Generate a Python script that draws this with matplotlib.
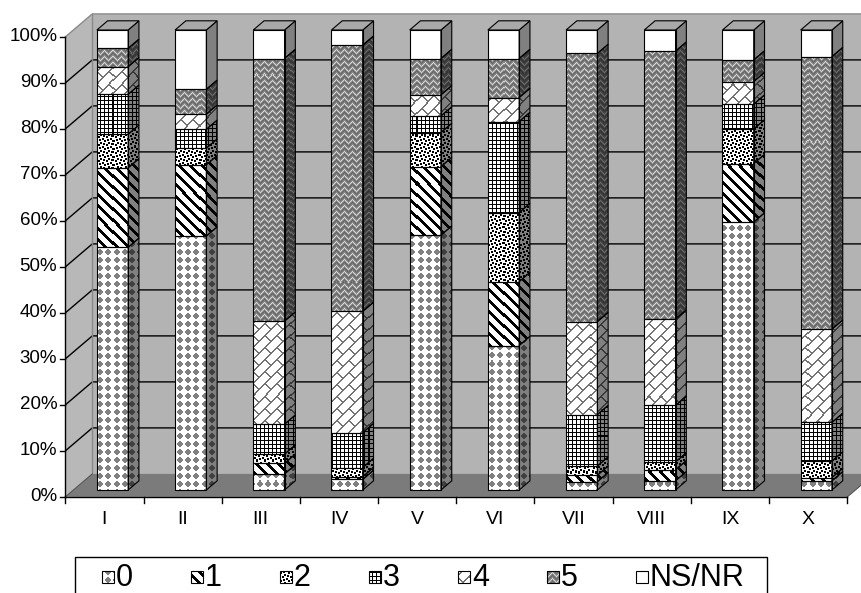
import numpy as np
import matplotlib
matplotlib.use("Agg")
import matplotlib.pyplot as plt
from matplotlib.patches import Polygon, Rectangle
from matplotlib import font_manager

# ---- data: share of answers per group (stacked to 100 %) ----
categories = ["I", "II", "III", "IV", "V", "VI", "VII", "VIII", "IX", "X"]
series_names = ["0", "1", "2", "3", "4", "5", "NS/NR"]
s0 = [52.8, 55.2, 3.5, 2.3, 55.4, 31.4, 1.8, 2.0, 58.2, 2.0]
s1 = [17.3, 15.5, 2.3, 0.6, 14.9, 13.9, 1.4, 2.4, 12.7, 0.7]
s2 = [7.3, 3.6, 2.0, 2.0, 7.4, 15.0, 2.0, 1.7, 7.5, 3.6]
s3 = [8.7, 4.1, 6.5, 7.6, 3.6, 19.8, 11.2, 12.3, 5.4, 8.4]
s4 = [6.0, 3.3, 22.4, 26.4, 4.6, 5.2, 20.2, 18.8, 4.9, 20.3]
s5 = [4.0, 5.4, 57.1, 58.0, 7.9, 8.5, 58.3, 58.3, 4.7, 59.3]
ns_nr = [4.0, 12.9, 6.2, 3.3, 6.2, 6.2, 5.1, 4.6, 6.5, 5.8]
y_ticks = [0, 10, 20, 30, 40, 50, 60, 70, 80, 90, 100]
y_tick_labels = [f"{v}%" for v in y_ticks]

series = [s0, s1, s2, s3, s4, s5, ns_nr]

# ---- fonts ----
names = {f.name for f in font_manager.fontManager.ttflist}
BASE_FONT = "Liberation Sans" if "Liberation Sans" in names else "DejaVu Sans"
NARROW_FONT = "Liberation Sans Narrow" if "Liberation Sans Narrow" in names else BASE_FONT

# ---- figure / scene geometry ----
W, H = 862, 593
fig = plt.figure(figsize=(W / 100, H / 100), dpi=100)
fig.patch.set_facecolor("white")
ax = fig.add_axes([0, 0, 1, 1])
ax.set_axis_off()

CAT_PX = 78.2      # horizontal pixels per category
PCT_PX = 4.6       # vertical pixels per percent
X_FIRST = 112.5    # pixel column of first bar centre
Y_BASE = 490.0     # pixel row of bar bases
XLIM = (1 - X_FIRST / CAT_PX, 1 + (W - X_FIRST) / CAT_PX)
YLIM = (-(H - Y_BASE) / PCT_PX, Y_BASE / PCT_PX)
ax.set_xlim(*XLIM)
ax.set_ylim(*YLIM)

DX = 27 / CAT_PX   # full-depth oblique shift (category units)
DY = 23 / PCT_PX   # full-depth oblique shift (percent units)
F = 0.3            # depth of bar front faces
BD = 0.4           # depth of bars
BW = 0.40          # bar width


def proj(c, v, d):
    """Oblique projection of scene point (category, percent, depth)."""
    return (c + (d - F) * DX, v + (d - F) * DY)


# ---- fill textures (grey level per pixel) ----
CONFETTI = [0xB1, 0x30, 0x03, 0x1B, 0xD8, 0xC0, 0x0C, 0x8D]
conf_tile = np.array([[(r >> (7 - k)) & 1 for k in range(8)] for r in CONFETTI])


def pattern(kind, P, Q):
    if kind == 0:      # grey diamonds on white
        a = np.abs((P % 8) - 3.5)
        b = np.abs((Q % 8) - 3.5)
        return np.where(a + b <= 3.6, 0.5, 1.0)
    if kind == 1:      # wide downward diagonal
        return np.where(((P - Q) % 11) < 4, 0.0, 1.0)
    if kind == 2:      # large confetti
        return np.where(conf_tile[Q % 8, P % 8] == 1, 0.0, 1.0)
    if kind == 3:      # small grid
        return np.where((P % 4 == 0) | (Q % 4 == 0), 0.0, 1.0)
    if kind == 4:      # diagonal brick
        a = P + Q
        b = P - Q
        row = a // 12
        long_line = (a % 12) < 2
        cross = ((b + 12 * (row % 2)) % 24) < 2
        return np.where(long_line | cross, 0.45, 1.0)
    if kind == 5:      # grey zigzag weave
        t = np.abs((P % 8) - 4)
        z = (Q + t) % 6
        lv = np.array([0.85, 0.6, 0.45, 0.4, 0.5, 0.55])
        return lv[z]
    return np.ones_like(P, dtype=float)


def textured(patch, kind, shade=1.0, z=3):
    """Fill a patch with a pixel-aligned texture image clipped to it."""
    verts = patch.get_path().transformed(patch.get_transform()).vertices
    x0 = int(np.floor(verts[:, 0].min())); x1 = int(np.ceil(verts[:, 0].max()))
    y0 = int(np.floor(verts[:, 1].min())); y1 = int(np.ceil(verts[:, 1].max()))
    P, Q = np.meshgrid(np.arange(x0, x1), np.arange(H - y1, H - y0))
    img = pattern(kind, P, Q) * shade
    inv = ax.transData.inverted()
    dx0, dy0 = inv.transform((x0, y0))
    dx1, dy1 = inv.transform((x1, y1))
    im = ax.imshow(img, extent=(dx0, dx1, dy0, dy1), origin="upper", cmap="gray",
                   vmin=0, vmax=1, interpolation="nearest", aspect="auto", zorder=z)
    im.set_clip_path(patch)


# ---- walls and floor ----
n = len(categories)
c_lo, c_hi = 0.5, n + 0.5
back = Polygon([proj(c_lo, 0, 1), proj(c_hi, 0, 1), proj(c_hi, 100, 1), proj(c_lo, 100, 1)],
               closed=True, facecolor="#b3b3b3", edgecolor="none", zorder=1)
left = Polygon([proj(c_lo, 0, 0), proj(c_lo, 0, 1), proj(c_lo, 100, 1), proj(c_lo, 100, 0)],
               closed=True, facecolor="#b8b8b8", edgecolor="none", zorder=1)
floor = Polygon([proj(c_lo, 0, 0), proj(c_hi, 0, 0), proj(c_hi, 0, 1), proj(c_lo, 0, 1)],
                closed=True, facecolor="#7b7b7b", edgecolor="none", zorder=1)
for p in (back, left, floor):
    ax.add_patch(p)

# gridlines on back and side walls
for v in y_ticks[1:-1]:
    xs, ys = zip(proj(c_lo, v, 0), proj(c_lo, v, 1), proj(c_hi, v, 1))
    ax.plot(xs, ys, color="black", lw=1.0, zorder=2, solid_capstyle="butt")
# wall outlines
xs, ys = zip(proj(c_lo, 100, 0), proj(c_lo, 100, 1), proj(c_hi, 100, 1))
ax.plot(xs, ys, color="#8a8a8a", lw=1.0, zorder=2)
xs, ys = zip(proj(c_lo, 0, 1), proj(c_lo, 100, 1))
ax.plot(xs, ys, color="#8a8a8a", lw=1.0, zorder=2)
xs, ys = zip(proj(c_lo, 0, 0), proj(c_lo, 0, 1))
ax.plot(xs, ys, color="#555555", lw=0.8, zorder=2)
xs, ys = zip(proj(c_hi, 0, 0), proj(c_hi, 0, 1))
ax.plot(xs, ys, color="#555555", lw=0.8, zorder=2)

# ---- front axes ----
xs, ys = zip(proj(c_lo, 0, 0), proj(c_lo, 100, 0))
ax.plot(xs, ys, color="black", lw=1.0, zorder=5)
xs, ys = zip(proj(c_lo, 0, 0), proj(c_hi, 0, 0))
ax.plot(xs, ys, color="black", lw=1.0, zorder=5)
tick_dx = 5 / CAT_PX
tick_dy = 6 / PCT_PX
for v, lab in zip(y_ticks, y_tick_labels):
    x, y = proj(c_lo, v, 0)
    ax.plot([x - tick_dx, x], [y, y], color="black", lw=1.0, zorder=5)
    ax.text(x - 8 / CAT_PX, y, lab, ha="right", va="center", fontsize=13.5,
            family=BASE_FONT, color="black")
for k in range(n + 1):
    x, y = proj(c_lo + k, 0, 0)
    ax.plot([x, x], [y, y - tick_dy], color="black", lw=1.0, zorder=5)
for i, lab in enumerate(categories):
    x, y = proj(i + 1, 0, 0)
    ax.text(x, y - 23 / PCT_PX, lab, ha="center", va="center", fontsize=14,
            family=NARROW_FONT, color="black")

# ---- stacked bars (normalised to 100 %) ----
vals = np.array(series, dtype=float)
vals = vals / vals.sum(axis=0) * 100
xpos = np.arange(1, n + 1)
bottom = np.zeros(n)
for kind, row in enumerate(vals):
    bars = ax.bar(xpos, row, bottom=bottom, width=BW, facecolor="none",
                  edgecolor="black", lw=0.8, zorder=4)
    for rect, c, b, h in zip(bars.patches, xpos, bottom, row):
        textured(rect, kind)
        xr = c + BW / 2
        side = Polygon([(xr, b), (xr + BD * DX, b + BD * DY),
                        (xr + BD * DX, b + h + BD * DY), (xr, b + h)],
                       closed=True, facecolor="none", edgecolor="black", lw=0.8, zorder=4)
        ax.add_patch(side)
        textured(side, kind, shade=0.5)
    bottom = bottom + row

# top faces
for c, top in zip(xpos, bottom):
    xl, xr = c - BW / 2, c + BW / 2
    ax.add_patch(Polygon([(xl, top), (xr, top), (xr + BD * DX, top + BD * DY),
                          (xl + BD * DX, top + BD * DY)], closed=True,
                         facecolor="#a9a9a9", edgecolor="black", lw=0.8, zorder=4))

ax.set_xlim(*XLIM)
ax.set_ylim(*YLIM)

# ---- legend ----
lax = fig.add_axes([0, 0, 1, 1], zorder=10)
lax.set_axis_off()
lax.set_xlim(0, W)
lax.set_ylim(H, 0)
lax.add_patch(Rectangle((75, 557), 692, 60, facecolor="white", edgecolor="black", lw=1.0))
sw = 12
for i, name in enumerate(series_names):
    x0 = 102 + i * 89
    y0 = 571
    P, Q = np.meshgrid(np.arange(x0, x0 + sw), np.arange(y0, y0 + sw))
    lax.imshow(pattern(i, P, Q), extent=(x0, x0 + sw, y0 + sw, y0), origin="upper",
               cmap="gray", vmin=0, vmax=1, interpolation="nearest", aspect="auto", zorder=11)
    lax.add_patch(Rectangle((x0, y0), sw, sw, facecolor="none", edgecolor="black",
                            lw=0.8, zorder=12))
    lax.text(x0 + sw + 2, y0 + sw / 2 + 0.5, name, ha="left", va="center",
             fontsize=22, family=NARROW_FONT, color="black", zorder=12)
lax.set_xlim(0, W)
lax.set_ylim(H, 0)

fig.savefig("out.png", dpi=100, facecolor="white")
